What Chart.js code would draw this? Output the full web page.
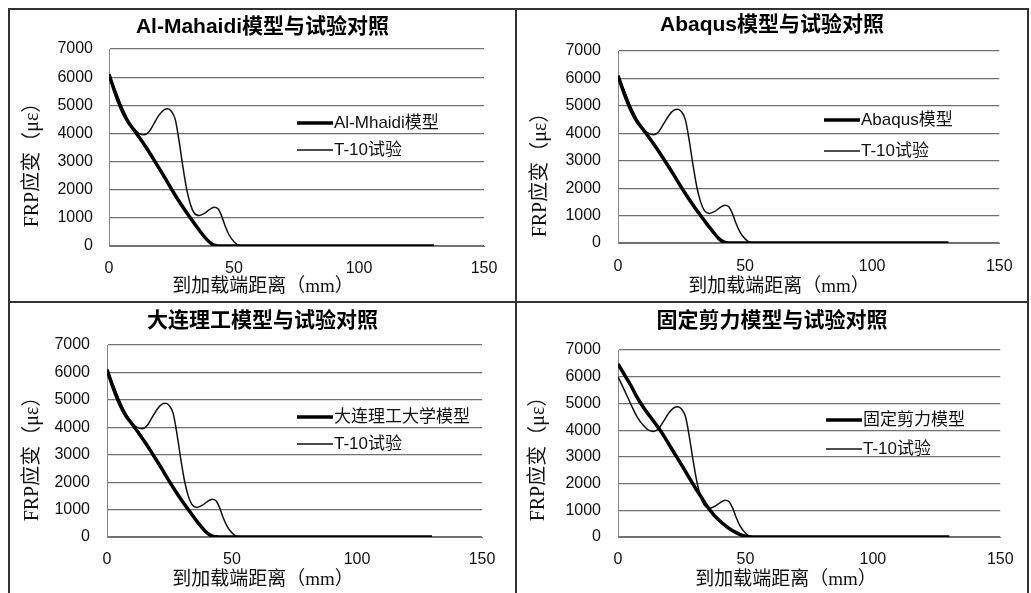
<!DOCTYPE html>
<html>
<head>
<meta charset="utf-8">
<script src="https://cdn.jsdelivr.net/npm/chart.js@4.4.0/dist/chart.umd.min.js"></script>
<style>
  body { margin: 0; background: #fff; width: 1031px; height: 593px; overflow: hidden; position: relative; }
  canvas { position: absolute; }
  .ln { position: absolute; background: #333; }
</style>
</head>
<body>
<div class="ln" style="left:8px;top:8px;width:1021px;height:2px"></div>
<div class="ln" style="left:8px;top:301px;width:1021px;height:2px"></div>
<div class="ln" style="left:8px;top:8px;width:2px;height:585px"></div>
<div class="ln" style="left:515px;top:8px;width:2px;height:585px"></div>
<div class="ln" style="left:1027px;top:8px;width:2px;height:585px"></div>
<canvas id="c1" width="505" height="291" style="left:10px;top:10px"></canvas>
<canvas id="c2" width="510" height="291" style="left:517px;top:10px"></canvas>
<canvas id="c3" width="505" height="290" style="left:10px;top:303px"></canvas>
<canvas id="c4" width="510" height="290" style="left:517px;top:303px"></canvas>
<script>
// distance to loaded end (mm) for the model curves
const modelDist = [0, 2.5, 5, 7.5, 10, 12.5, 15, 17.5, 20, 22.5, 25, 27.5, 30, 32.5, 35, 37.5, 40, 42.5, 45, 47.5, 50, 52.5, 55, 60, 70, 80, 90, 100, 110, 120, 130];
const alMahaidiStrain = [6100, 5430, 4860, 4430, 4120, 3810, 3480, 3130, 2770, 2400, 2020, 1660, 1320, 1000, 690, 400, 150, 20, 0, 0, 0, 0, 0, 0, 0, 0, 0, 0, 0, 0, 0];
const abaqusStrain = [6100, 5430, 4860, 4430, 4120, 3810, 3480, 3130, 2770, 2400, 2020, 1660, 1320, 1000, 690, 400, 130, 10, 0, 0, 0, 0, 0, 0, 0, 0, 0, 0, 0, 0, 0];
const dalianStrain = [6100, 5430, 4860, 4430, 4120, 3810, 3480, 3130, 2770, 2400, 2020, 1660, 1320, 1000, 690, 400, 150, 20, 0, 0, 0, 0, 0, 0, 0, 0, 0, 0, 0, 0, 0];
const fixedShearStrain = [6480, 6080, 5680, 5230, 4850, 4520, 4200, 3860, 3470, 3080, 2690, 2290, 1890, 1520, 1140, 840, 600, 400, 230, 110, 30, 0, 0, 0, 0, 0, 0, 0, 0, 0, 0];

// T-10 test
const t10Dist = [0, 2.5, 5, 7.5, 10, 12, 14, 16, 18, 20, 22, 23.5, 25, 26.5, 28, 29.5, 31, 32.5, 34, 36, 38, 40, 42, 43.5, 45, 46.5, 48, 50, 52, 55, 60, 70, 80, 90, 100, 110, 120, 130];
const t10Strain = [6100, 5550, 4980, 4500, 4170, 4000, 3950, 4060, 4350, 4650, 4840, 4880, 4780, 4500, 3750, 2850, 2050, 1500, 1180, 1080, 1150, 1280, 1380, 1330, 1080, 700, 400, 150, 20, 0, 0, 0, 0, 0, 0, 0, 0, 0];
const t10StrainP4 = [6000, 5500, 4980, 4500, 4170, 4000, 3950, 4060, 4350, 4650, 4840, 4880, 4780, 4500, 3750, 2850, 2050, 1500, 1180, 1080, 1150, 1280, 1380, 1330, 1080, 700, 400, 150, 20, 0, 0, 0, 0, 0, 0, 0, 0, 0];

const xTicks = [0, 50, 100, 150];
const yTicks = [0, 1000, 2000, 3000, 4000, 5000, 6000, 7000];

const SANS = "'Liberation Sans', 'Noto Sans CJK SC', sans-serif";
const SERIF = "'Liberation Serif', 'Noto Sans CJK SC', serif";

// legend inside the plot + chart/axis titles placed as in the picture
const panelText = {
  id: 'panelText',
  afterDraw(chart, args, o) {
    const ctx = chart.ctx;
    ctx.save();
    ctx.textBaseline = 'middle';
    chart.data.datasets.forEach((ds, i) => {
      const y = o.legYs[i];
      ctx.strokeStyle = ds.borderColor;
      ctx.lineWidth = ds.borderWidth;
      ctx.beginPath();
      ctx.moveTo(o.legX, y);
      ctx.lineTo(o.legX + 36, y);
      ctx.stroke();
      ctx.fillStyle = '#111';
      ctx.font = '17px ' + SANS;
      ctx.textAlign = 'left';
      ctx.fillText(ds.label, o.legX + 37, y);
    });
    ctx.fillStyle = '#000';
    ctx.textAlign = 'center';
    ctx.font = 'bold 21px ' + SANS;
    ctx.fillText(o.title, chart.width / 2, o.titleY);
    ctx.fillStyle = '#111';
    ctx.font = '19px ' + SERIF;
    ctx.fillText(o.xTitle, o.xTitleX, o.xTitleY);
    ctx.translate(o.yTitleX, o.yTitleY);
    ctx.rotate(-Math.PI / 2);
    ctx.font = '20px ' + SERIF;
    ctx.fillText(o.yTitle, 0, 0);
    ctx.restore();
  }
};

function toPoints(xs, ys) {
  return xs.map((x, i) => ({ x: x, y: ys[i] }));
}

// page coordinates
function makePanel(id, box, plot, pos, title, modelLabel, modelY, t10Y) {
  const kLh = 16 * 1.2;
  new Chart(document.getElementById(id), {
    type: 'line',
    data: {
      datasets: [
        {
          label: modelLabel,
          data: toPoints(modelDist, modelY),
          borderColor: '#000',
          borderWidth: 3.5,
          pointRadius: 0,
          cubicInterpolationMode: 'monotone'
        },
        {
          label: 'T-10试验',
          data: toPoints(t10Dist, t10Y),
          borderColor: '#111',
          borderWidth: 1.5,
          pointRadius: 0,
          cubicInterpolationMode: 'monotone'
        }
      ]
    },
    options: {
      responsive: false,
      animation: false,
      layout: { padding: { left: 0, top: plot.t - box.y, bottom: 0, right: box.x + box.w - plot.r } },
      plugins: {
        legend: { display: false },
        tooltip: { enabled: false },
        title: { display: false },
        panelText: {
          title: title,
          titleY: pos.titleY - box.y,
          xTitle: '到加载端距离（mm）',
          xTitleX: pos.xTitleX - box.x,
          xTitleY: pos.xTitleY - box.y,
          yTitle: 'FRP应变（με）',
          yTitleX: pos.yTitleX - box.x,
          yTitleY: pos.yTitleY - box.y,
          legX: pos.legX - box.x,
          legYs: [pos.legY1 - box.y, pos.legY2 - box.y]
        }
      },
      scales: {
        x: {
          type: 'linear',
          min: xTicks[0],
          max: xTicks[xTicks.length - 1],
          afterBuildTicks: (s) => { s.ticks = xTicks.map(v => ({ value: v })); },
          afterFit: (s) => { s.height = box.y + box.h - plot.b; },
          grid: { display: false, drawTicks: false },
          border: { display: true, color: '#777', width: 1 },
          ticks: { color: '#111', font: { family: SANS, size: 16 }, padding: (pos.xTickY - plot.b) - kLh / 2, maxRotation: 0, callback: (v) => String(v) }
        },
        y: {
          min: yTicks[0],
          max: yTicks[yTicks.length - 1],
          afterBuildTicks: (s) => { s.ticks = yTicks.map(v => ({ value: v })); },
          afterFit: (s) => { s.width = plot.l - box.x; },
          grid: { color: '#707070', lineWidth: 1.2, drawTicks: false },
          border: { display: true, color: '#888', width: 1 },
          ticks: { color: '#111', font: { family: SANS, size: 16 }, padding: plot.l - pos.yTickR, callback: (v) => String(v) }
        }
      }
    },
    plugins: [panelText]
  });
}

makePanel('c1', { x: 10, y: 10, w: 505, h: 291 }, { l: 109, r: 484, t: 49, b: 246 },
  { titleY: 27, xTickY: 269, xTitleX: 263, xTitleY: 287, yTickR: 93, yTitleX: 33, yTitleY: 160, legX: 297, legY1: 123, legY2: 150 },
  'Al-Mahaidi模型与试验对照', 'Al-Mhaidi模型', alMahaidiStrain, t10Strain);

makePanel('c2', { x: 517, y: 10, w: 510, h: 291 }, { l: 618, r: 1004, t: 51, b: 243 },
  { titleY: 25, xTickY: 267, xTitleX: 779, xTitleY: 287, yTickR: 601, yTitleX: 541, yTitleY: 170, legX: 824, legY1: 120, legY2: 151 },
  'Abaqus模型与试验对照', 'Abaqus模型', abaqusStrain, t10Strain);

makePanel('c3', { x: 10, y: 303, w: 505, h: 290 }, { l: 107, r: 482, t: 345, b: 537 },
  { titleY: 321, xTickY: 560, xTitleX: 263, xTitleY: 580, yTickR: 90, yTitleX: 33, yTitleY: 454, legX: 297, legY1: 417, legY2: 444 },
  '大连理工模型与试验对照', '大连理工大学模型', dalianStrain, t10Strain);

makePanel('c4', { x: 517, y: 303, w: 510, h: 290 }, { l: 618, r: 1004, t: 350, b: 537 },
  { titleY: 321, xTickY: 560, xTitleX: 786, xTitleY: 580, yTickR: 601, yTitleX: 539, yTitleY: 454, legX: 826, legY1: 420, legY2: 449 },
  '固定剪力模型与试验对照', '固定剪力模型', fixedShearStrain, t10StrainP4);
</script>
</body>
</html>
